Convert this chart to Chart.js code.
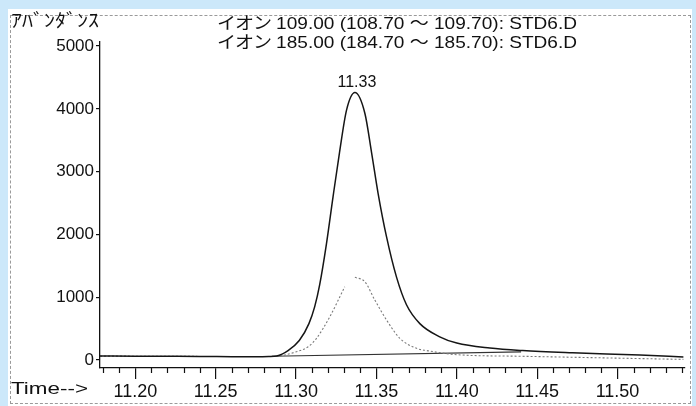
<!DOCTYPE html>
<html>
<head>
<meta charset="utf-8">
<script src="https://cdn.jsdelivr.net/npm/chart.js@4/dist/chart.umd.min.js"></script>
<style>
  html, body { margin: 0; padding: 0; }
  body { width: 696px; height: 406px; background: #cce8fa; position: relative; overflow: hidden;
         font-family: "Liberation Sans", "Noto Sans CJK JP", sans-serif; color: #111; }
  #panel { position: absolute; left: 8px; top: 9px; width: 684px; height: 397px; background: #fff; }
  #frame { position: absolute; left: 10px; top: 15px; width: 679px; height: 387px; border: 1px dashed #9a9a9a; }
  canvas { position: absolute; left: 0; top: 0; }
  .t { position: absolute; white-space: nowrap; font-size: 17px; line-height: 17px; transform-origin: 0 50%; }
  .kana { font-family: "Noto Sans CJK JP", sans-serif; letter-spacing: -1px; }
</style>
</head>
<body>
<div id="panel"></div>
<div id="frame"></div>
<canvas id="c" width="696" height="406"></canvas>
<div class="t fit" data-w="88" style="left:11px; top:11px; font-family:'Noto Sans CJK JP',sans-serif; font-size:18px;">ｱﾊﾞﾝﾀﾞﾝｽ</div>
<div class="t fit" data-w="360" style="left:217px; top:13px;"><span class="kana">イオン</span> 109.00 (108.70 ～ 109.70): STD6.D</div>
<div class="t fit" data-w="360" style="left:217px; top:32px;"><span class="kana">イオン</span> 185.00 (184.70 ～ 185.70): STD6.D</div>
<div class="t fit" data-w="77" style="left:11px; top:380px;">Time--&gt;</div>
<script>
// ---- data ----
const ion109Times  = [11.178, 11.20, 11.22, 11.24, 11.26, 11.275, 11.283, 11.288, 11.295, 11.302, 11.308, 11.3116, 11.3147, 11.3189, 11.323, 11.327, 11.3314, 11.3366, 11.3428, 11.347, 11.351, 11.3563, 11.3625, 11.3687, 11.377, 11.3894, 11.40, 11.4206, 11.441, 11.472, 11.514, 11.541];
const ion109Values = [65, 62, 60, 58, 54, 52, 55, 64, 150, 310, 580, 850, 1200, 1850, 2600, 3300, 3980, 4260, 3930, 3300, 2660, 1960, 1320, 880, 580, 370, 270, 190, 150, 115, 80, 50];

const ion185Times  = [11.178, 11.22, 11.26, 11.285, 11.3002, 11.3075, 11.3127, 11.321, 11.3303, 11.333, 11.3366, 11.3428, 11.349, 11.3563, 11.3646, 11.375, 11.3833, 11.40, 11.44, 11.50, 11.541];
const ion185Values = [62, 60, 55, 55, 132, 212, 345, 690, 1167, null, 1317, 1247, 955, 637, 345, 186, 143, 85, 60, 30, 10];

const baseTimes  = [11.285, 11.44];
const baseValues = [60, 130];

const peakLabel = "11.33";
const yTickValues = [0, 1000, 2000, 3000, 4000, 5000];
const xMajorLabels = ["11.20", "11.25", "11.30", "11.35", "11.40", "11.45", "11.50"];
const xMinorStep = 0.01;
const xRange = [11.178, 11.542];
const yRange = [-127, 5065];

// stretch header texts to their measured widths in the reference
document.querySelectorAll('.fit').forEach(el => {
  const w = el.getBoundingClientRect().width;
  el.style.transform = 'scaleX(' + (parseFloat(el.dataset.w) / w) + ')';
});

const toXY = (ts, vs) => ts.map((t, i) => ({ x: t, y: vs[i] }));

const xTickValues = [];
for (let i = 0; ; i++) {
  const v = +(11.18 + i * xMinorStep).toFixed(2);
  if (v > xRange[1]) break;
  xTickValues.push(v);
}
const isMajor = v => xMajorLabels.includes(v.toFixed(2));

const minorTicks = {
  id: 'minorTicks',
  afterDraw(chart) {
    const xs = chart.scales.x, c = chart.ctx, y0 = chart.chartArea.bottom;
    c.save();
    c.strokeStyle = '#111'; c.lineWidth = 1.2;
    xTickValues.forEach(v => {
      if (isMajor(v)) return;
      const px = Math.round(xs.getPixelForValue(v)) + 0.5;
      c.beginPath(); c.moveTo(px, y0); c.lineTo(px, y0 + 5); c.stroke();
    });
    c.restore();
  }
};

const peakText = {
  id: 'peakText',
  afterDatasetsDraw(chart) {
    let mi = 0;
    ion109Values.forEach((v, i) => { if (v > ion109Values[mi]) mi = i; });
    const px = chart.scales.x.getPixelForValue(ion109Times[mi]);
    const py = chart.scales.y.getPixelForValue(ion109Values[mi]);
    const c = chart.ctx;
    c.save();
    c.font = '16px "Liberation Sans", sans-serif';
    c.fillStyle = '#111'; c.textAlign = 'center'; c.textBaseline = 'bottom';
    c.fillText(peakLabel, px + 2, py - 2);
    c.restore();
  }
};

new Chart(document.getElementById('c'), {
  type: 'line',
  data: {
    datasets: [
      { label: 'ion109', data: toXY(ion109Times, ion109Values), borderColor: '#151515', borderWidth: 1.5, pointRadius: 0, cubicInterpolationMode: 'monotone', fill: false },
      { label: 'ion185', data: toXY(ion185Times, ion185Values), borderColor: '#7a7a7a', borderWidth: 1.1, borderDash: [2, 2], pointRadius: 0, cubicInterpolationMode: 'monotone', fill: false, spanGaps: false },
      { label: 'base', data: toXY(baseTimes, baseValues), borderColor: '#333', borderWidth: 1.1, pointRadius: 0, tension: 0, fill: false }
    ]
  },
  options: {
    responsive: false,
    animation: false,
    devicePixelRatio: 1,
    layout: { padding: { top: 42, right: 11, left: 0, bottom: 0 } },
    plugins: { legend: { display: false }, tooltip: { enabled: false }, title: { display: false } },
    scales: {
      x: {
        type: 'linear', min: xRange[0], max: xRange[1],
        afterBuildTicks: s => { s.ticks = xTickValues.map(v => ({ value: v })); },
        afterFit: s => { s.height = 38; },
        grid: { drawOnChartArea: false, drawTicks: true, tickLength: 11, lineWidth: 1.2,
                color: ctx => (ctx.tick && isMajor(ctx.tick.value)) ? '#111' : 'rgba(0,0,0,0)' },
        border: { display: true, color: '#111', width: 1.3 },
        ticks: { autoSkip: false, maxRotation: 0, minRotation: 0, padding: 2, color: '#111',
                 font: { size: 18, family: '"Liberation Sans", sans-serif' },
                 callback: v => isMajor(v) ? v.toFixed(2) : '' }
      },
      y: {
        min: yRange[0], max: yRange[1],
        afterBuildTicks: s => { s.ticks = yTickValues.map(v => ({ value: v })); },
        afterFit: s => { s.width = 100; },
        grid: { drawOnChartArea: false, drawTicks: true, tickLength: 4, color: '#111', lineWidth: 1.2 },
        border: { display: true, color: '#111', width: 1.3 },
        ticks: { autoSkip: false, padding: 2, color: '#111',
                 font: { size: 17, family: '"Liberation Sans", sans-serif' },
                 callback: v => String(v) }
      }
    }
  },
  plugins: [minorTicks, peakText]
});
</script>
</body>
</html>
